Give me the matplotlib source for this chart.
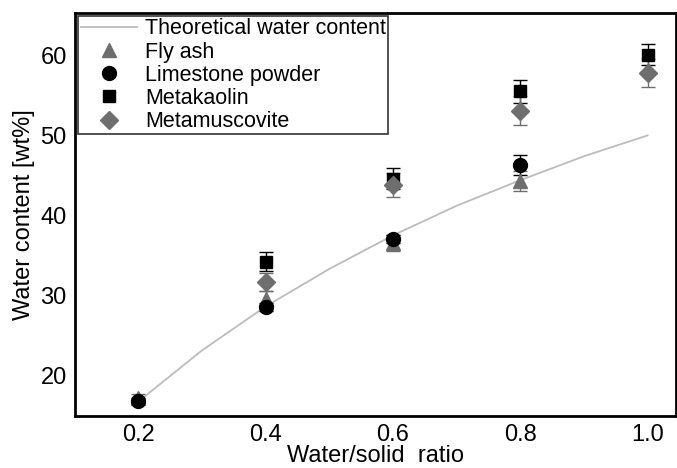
import matplotlib
matplotlib.use("Agg")
import matplotlib.pyplot as plt
from matplotlib.lines import Line2D

plt.rcParams['font.family'] = ['Liberation Sans', 'DejaVu Sans']

# theoretical curve
ws_theory = [0.2, 0.3, 0.4, 0.5, 0.6, 0.7, 0.8, 0.9, 1.0]
wc_theory = [16.7, 23.1, 28.6, 33.3, 37.5, 41.2, 44.4, 47.4, 50.0]

ws_fly = [0.2, 0.4, 0.6, 0.8]
fly_ash = [17.2, 29.5, 36.6, 44.3]
fly_err = [0.4, 1.0, 1.0, 1.2]

ws_lime = [0.2, 0.4, 0.6, 0.8]
limestone = [16.8, 28.6, 37.1, 46.3]
lime_err = [0.3, 0.5, 0.5, 1.2]

ws_meta = [0.4, 0.6, 0.8, 1.0]
metakaolin = [34.2, 44.6, 55.5, 60.1]
meta_err = [1.2, 1.3, 1.4, 1.3]

ws_musc = [0.4, 0.6, 0.8, 1.0]
metamuscovite = [31.7, 43.8, 53.1, 57.8]
musc_err = [1.1, 1.5, 1.8, 1.7]

grey = '#6e6e6e'
line_grey = '#bcbcbc'

fig = plt.figure(figsize=(6.77, 4.68), dpi=100)
ax = fig.add_axes([0.111, 0.111, 0.888, 0.861])

ax.plot(ws_theory, wc_theory, color=line_grey, lw=1.3)
ax.errorbar(ws_fly, fly_ash, yerr=fly_err, fmt='^', color=grey, ms=10, capsize=5, elinewidth=1)
ax.errorbar(ws_lime, limestone, yerr=lime_err, fmt='o', color='black', ms=10, capsize=5, elinewidth=1)
ax.errorbar(ws_meta, metakaolin, yerr=meta_err, fmt='s', color='black', ms=9, capsize=5, elinewidth=1)
ax.errorbar(ws_musc, metamuscovite, yerr=musc_err, fmt='D', color=grey, ms=9, capsize=5, elinewidth=1)

ax.set_xlim(0.101, 1.045)
ax.set_ylim(14.9, 65.3)
ax.set_xticks([0.2, 0.4, 0.6, 0.8, 1.0])
ax.set_yticks([20, 30, 40, 50, 60])
ax.tick_params(length=0, labelsize=17, pad=6)
for s in ax.spines.values():
    s.set_linewidth(2)

ax.set_xlabel('Water/solid  ratio', fontsize=17, labelpad=-1)
ax.set_ylabel('Water content [wt%]', fontsize=17, labelpad=4)

handles = [
    Line2D([], [], color=line_grey, lw=1.3),
    Line2D([], [], ls='none', marker='^', color=grey, ms=10),
    Line2D([], [], ls='none', marker='o', color='black', ms=10),
    Line2D([], [], ls='none', marker='s', color='black', ms=9),
    Line2D([], [], ls='none', marker='D', color=grey, ms=9),
]
labels = ['Theoretical water content', 'Fly ash', 'Limestone powder', 'Metakaolin', 'Metamuscovite']
leg = ax.legend(handles, labels, loc='upper left', fontsize=15.5, frameon=True, fancybox=False,
                borderaxespad=0.15, handlelength=2.6, handletextpad=0.4,
                labelspacing=0.1, borderpad=0.1)
leg.get_frame().set_edgecolor('black')
leg.get_frame().set_linewidth(1.2)

fig.savefig('out.png', dpi=100)
